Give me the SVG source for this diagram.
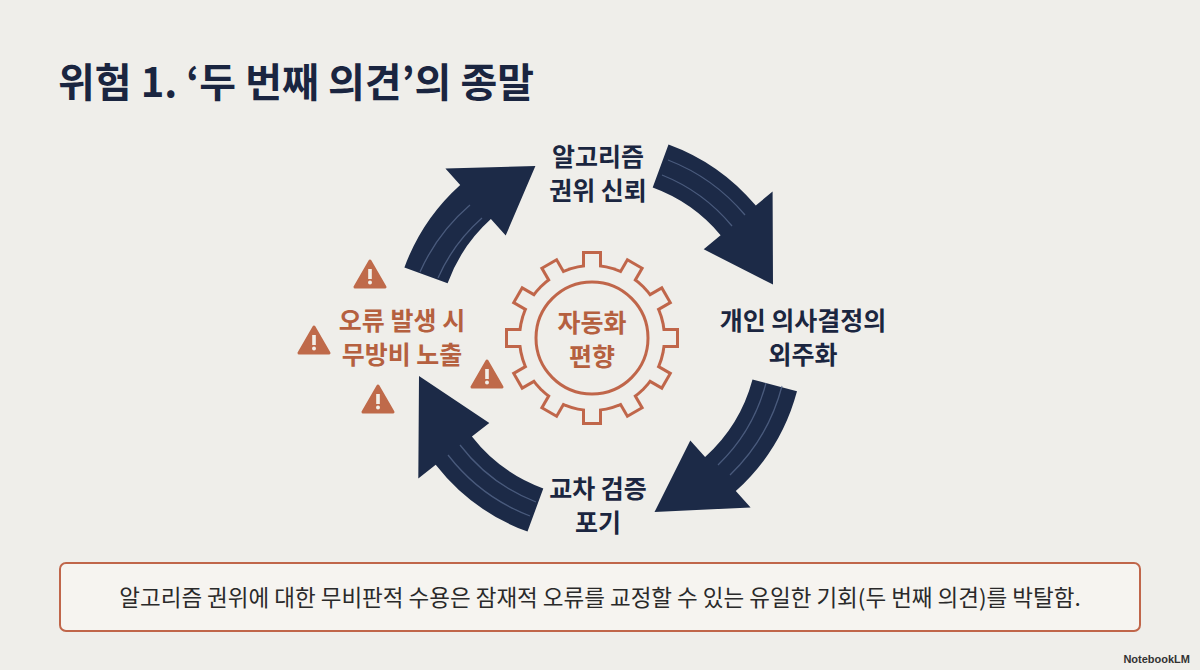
<svg xmlns="http://www.w3.org/2000/svg" width="1200" height="670" viewBox="0 0 1200 670">
<style>
.t{font-family:"Noto Sans CJK KR","Noto Sans",sans-serif;font-weight:700}
.d{fill:#1b2640;font-size:25px}
.o{fill:#b5603f;font-size:25px}
.arr{fill:#1c2a47}
.cir{fill:none;stroke:#5d6f93;stroke-width:1.3;opacity:0.7}
.warn{fill:#bf6a4a}
</style>
<defs>
<g id="w"><path class="warn" d="M0,-14 L15,12 L-15,12 Z" stroke="#bf6a4a" stroke-width="3" stroke-linejoin="round"/><rect x="-1.8" y="-6" width="3.6" height="10" fill="#f2efe9"/><circle cx="0" cy="7.5" r="2" fill="#f2efe9"/></g>
</defs>
<rect width="1200" height="670" fill="#efeeea"/>
<text class="t" x="58" y="97" font-size="40" fill="#1a2540">위험 1. ‘두 번째 의견’의 종말</text>
<g id="connectors">
<path class="arr" d="M404.4,267.5 A206,206 0 0 1 460.2,184.9 L445.4,168.6 L535.4,166 L505.7,235.5 L490.9,219.1 A160,160 0 0 0 447.6,283.3 Z"/>
<path class="arr" d="M668.5,144.4 A206,206 0 0 1 755.8,205.6 L772.6,191.4 L773,284.5 L703.7,249.3 L720.6,235.2 A160,160 0 0 0 652.7,187.6 Z"/>
<path class="arr" d="M797,391.3 A206,206 0 0 1 735.8,491.1 L750.6,507.4 L654.5,512.1 L690.3,440.5 L705.1,456.9 A160,160 0 0 0 752.5,379.4 Z"/>
<path class="arr" d="M527.5,531.6 A206,206 0 0 1 435.7,464.8 L418.3,478.4 L419,376 L489.3,423 L471.9,436.5 A160,160 0 0 0 543.3,488.4 Z"/>
<g class="cir">
<path d="M420,272 A190,190 0 0 1 470,205"/><path d="M438,278 A172,172 0 0 1 482,218"/>
<path d="M668,160 A190,190 0 0 1 745,215"/><path d="M662,175 A175,175 0 0 1 732,226"/>
<path d="M782,386 A190,190 0 0 1 730,475"/><path d="M766,383 A175,175 0 0 1 718,465"/>
<path d="M530,516 A190,190 0 0 1 448,455"/><path d="M536,502 A175,175 0 0 1 460,445"/>
</g>
</g>
<g id="gear">
<g fill="#c0664a" transform="translate(592,338)">
<circle r="74"/>
<g><rect x="-10" y="-87" width="20" height="20"/><rect x="-10" y="-87" width="20" height="20" transform="rotate(30)"/><rect x="-10" y="-87" width="20" height="20" transform="rotate(60)"/><rect x="-10" y="-87" width="20" height="20" transform="rotate(90)"/><rect x="-10" y="-87" width="20" height="20" transform="rotate(120)"/><rect x="-10" y="-87" width="20" height="20" transform="rotate(150)"/><rect x="-10" y="-87" width="20" height="20" transform="rotate(180)"/><rect x="-10" y="-87" width="20" height="20" transform="rotate(210)"/><rect x="-10" y="-87" width="20" height="20" transform="rotate(240)"/><rect x="-10" y="-87" width="20" height="20" transform="rotate(270)"/><rect x="-10" y="-87" width="20" height="20" transform="rotate(300)"/><rect x="-10" y="-87" width="20" height="20" transform="rotate(330)"/></g>
</g>
<g fill="#efeeea" transform="translate(592,338)">
<circle r="71"/>
<g><rect x="-7" y="-84" width="14" height="20"/><rect x="-7" y="-84" width="14" height="20" transform="rotate(30)"/><rect x="-7" y="-84" width="14" height="20" transform="rotate(60)"/><rect x="-7" y="-84" width="14" height="20" transform="rotate(90)"/><rect x="-7" y="-84" width="14" height="20" transform="rotate(120)"/><rect x="-7" y="-84" width="14" height="20" transform="rotate(150)"/><rect x="-7" y="-84" width="14" height="20" transform="rotate(180)"/><rect x="-7" y="-84" width="14" height="20" transform="rotate(210)"/><rect x="-7" y="-84" width="14" height="20" transform="rotate(240)"/><rect x="-7" y="-84" width="14" height="20" transform="rotate(270)"/><rect x="-7" y="-84" width="14" height="20" transform="rotate(300)"/><rect x="-7" y="-84" width="14" height="20" transform="rotate(330)"/></g>
</g>
<circle cx="592" cy="338" r="56" fill="none" stroke="#c0664a" stroke-width="3"/>
<text class="t o" x="592" y="332" text-anchor="middle">자동화</text>
<text class="t o" x="592" y="366" text-anchor="middle">편향</text>
</g>
<g id="n1"><text class="t d" x="598" y="166" text-anchor="middle">알고리즘</text><text class="t d" x="598" y="200" text-anchor="middle">권위 신뢰</text></g>
<g id="n2"><text class="t d" x="803" y="330" text-anchor="middle">개인 의사결정의</text><text class="t d" x="803" y="364" text-anchor="middle">외주화</text></g>
<g id="n3"><text class="t d" x="598" y="498" text-anchor="middle">교차 검증</text><text class="t d" x="598" y="532" text-anchor="middle">포기</text></g>
<g id="n4"><text class="t o" x="402" y="330" text-anchor="middle">오류 발생 시</text><text class="t o" x="402" y="364" text-anchor="middle">무방비 노출</text>
<use href="#w" x="370" y="275"/><use href="#w" x="314" y="341"/><use href="#w" x="487" y="375"/><use href="#w" x="378" y="400"/></g>
<g id="note"><rect x="60" y="563" width="1080" height="68" rx="6" fill="#f6f4f0" stroke="#c0664a" stroke-width="2"/>
<text x="600" y="606" text-anchor="middle" font-family="Noto Sans CJK KR,sans-serif" font-size="22.5" fill="#2a2a2a">알고리즘 권위에 대한 무비판적 수용은 잠재적 오류를 교정할 수 있는 유일한 기회(두 번째 의견)를 박탈함.</text></g>
<text x="1190" y="663" text-anchor="end" font-family="Liberation Sans,sans-serif" font-size="11" font-weight="700" fill="#333">NotebookLM</text>
</svg>
